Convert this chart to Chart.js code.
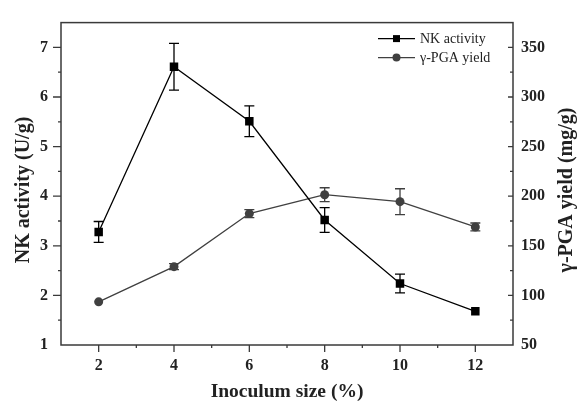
<!DOCTYPE html>
<html>
<head>
<meta charset="utf-8">
<script src="https://cdn.jsdelivr.net/npm/chart.js@4.4.1/dist/chart.umd.min.js"></script>
<style>
  html, body { margin: 0; padding: 0; background: #fff; }
  #wrap { width: 578px; height: 401px; }
</style>
</head>
<body>
<div id="wrap"><canvas id="myChart" width="578" height="401"></canvas></div>
<script>
// inoculum size (%) and the two measured responses with their error bars
const inoculum = [2, 4, 6, 8, 10, 12];
const nkActivity = [3.28, 6.61, 5.51, 3.52, 2.24, 1.68];
const nkError = [0.21, 0.47, 0.31, 0.25, 0.19, 0];
const pgaYield = [93.5, 129, 182.5, 201.5, 194.5, 169];
const pgaError = [0, 3, 4, 7, 13, 4];

const serif = '"Liberation Serif", "Times New Roman", serif';
const axisColor = '#3a3a3a';
const textColor = '#222';

const points = (ys) => inoculum.map((x, i) => ({ x: x, y: ys[i] }));

// vertical error bars with caps
const errorBars = {
    id: 'errorBars',
    afterDatasetsDraw(chart) {
        const ctx = chart.ctx;
        chart.data.datasets.forEach((ds, di) => {
            const meta = chart.getDatasetMeta(di);
            const ys = chart.scales[ds.yAxisID];
            ctx.save();
            ctx.strokeStyle = ds.borderColor;
            ctx.lineWidth = 1.3;
            meta.data.forEach((pt, i) => {
                const e = ds.errors[i];
                if (!e) return;
                const v = ds.data[i].y;
                const top = ys.getPixelForValue(v + e);
                const bot = ys.getPixelForValue(v - e);
                const x = pt.x;
                ctx.beginPath();
                ctx.moveTo(x, top); ctx.lineTo(x, bot);
                ctx.moveTo(x - 5, top); ctx.lineTo(x + 5, top);
                ctx.moveTo(x - 5, bot); ctx.lineTo(x + 5, bot);
                ctx.stroke();
            });
            ctx.restore();
        });
    }
};

// frame, tick marks (major/minor), y titles and the legend
const frameAndTicks = {
    id: 'frameAndTicks',
    afterDraw(chart) {
        const ctx = chart.ctx;
        const a = chart.chartArea;
        ctx.save();
        ctx.strokeStyle = axisColor;
        ctx.lineWidth = 1.5;
        ctx.strokeRect(a.left, a.top, a.right - a.left, a.bottom - a.top);

        ctx.lineWidth = 1.3;
        ctx.beginPath();
        chart.scales.x.ticks.forEach(t => {
            if (t.value <= 1 || t.value >= 13) return;
            const px = chart.scales.x.getPixelForValue(t.value);
            const len = t.value % 2 === 0 ? 7 : 3;
            ctx.moveTo(px, a.bottom); ctx.lineTo(px, a.bottom + len);
        });
        chart.scales.y.ticks.forEach(t => {
            if (t.value <= 1 || t.value >= 7.5) return;
            const py = chart.scales.y.getPixelForValue(t.value);
            const len = Number.isInteger(t.value) ? 8 : 3;
            ctx.moveTo(a.left, py); ctx.lineTo(a.left - len, py);
        });
        chart.scales.y1.ticks.forEach(t => {
            if (t.value <= 50 || t.value >= 375) return;
            const py = chart.scales.y1.getPixelForValue(t.value);
            const len = t.value % 50 === 0 ? 5 : 3;
            ctx.moveTo(a.right, py); ctx.lineTo(a.right - len, py);
        });
        ctx.stroke();

        // both y titles read bottom to top
        ctx.fillStyle = textColor;
        ctx.font = 'bold 20px ' + serif;
        ctx.textAlign = 'center';
        ctx.textBaseline = 'middle';
        [[24, 'NK activity (U/g)'], [567, 'γ-PGA yield (mg/g)']].forEach(([x, txt]) => {
            ctx.save();
            ctx.translate(x, 190);
            ctx.rotate(-Math.PI / 2);
            ctx.fillText(txt, 0, 0);
            ctx.restore();
        });

        // legend
        ctx.font = '14px ' + serif;
        ctx.textAlign = 'left';
        chart.data.datasets.forEach((ds, i) => {
            const y = a.top + 16 + i * 19;
            const x0 = a.right - 135;
            ctx.strokeStyle = ds.borderColor;
            ctx.fillStyle = ds.backgroundColor;
            ctx.lineWidth = 1.3;
            ctx.beginPath();
            ctx.moveTo(x0, y); ctx.lineTo(x0 + 37, y);
            ctx.stroke();
            ctx.beginPath();
            if (ds.pointStyle === 'rect') {
                ctx.rect(x0 + 15, y - 3.5, 7, 7);
            } else {
                ctx.arc(x0 + 18.5, y, 4, 0, Math.PI * 2);
            }
            ctx.fill();
            ctx.fillStyle = textColor;
            ctx.fillText(ds.label, x0 + 42, y + 1);
        });
        ctx.restore();
    }
};

const tickFont = { family: serif, size: 16, weight: 'bold' };
const noGrid = { display: false, drawTicks: false };

const ctx = document.getElementById('myChart');

new Chart(ctx, {
    type: 'line',
    data: {
        datasets: [{
            label: 'NK activity',
            data: points(nkActivity),
            errors: nkError,
            yAxisID: 'y',
            borderColor: '#000',
            backgroundColor: '#000',
            borderWidth: 1.3,
            pointStyle: 'rect',
            pointRadius: 6,
            pointBorderWidth: 0
        }, {
            label: 'γ-PGA yield',
            data: points(pgaYield),
            errors: pgaError,
            yAxisID: 'y1',
            borderColor: '#404040',
            backgroundColor: '#404040',
            borderWidth: 1.3,
            pointStyle: 'circle',
            pointRadius: 4.5,
            pointBorderWidth: 0
        }]
    },
    options: {
        responsive: false,
        animation: false,
        layout: { padding: { top: 13 } },
        plugins: {
            legend: { display: false },
            tooltip: { enabled: false }
        },
        scales: {
            x: {
                type: 'linear',
                min: 1,
                max: 13,
                afterFit: s => { s.height = 56; },
                grid: noGrid,
                border: { display: false },
                ticks: {
                    stepSize: 1,
                    padding: 11,
                    color: textColor,
                    font: tickFont,
                    callback: v => (v % 2 === 0 && v > 1 && v < 13) ? v : ''
                },
                title: {
                    display: true,
                    text: 'Inoculum size (%)',
                    color: textColor,
                    padding: { top: 0, bottom: -3 },
                    font: { family: serif, size: 19.5, weight: 'bold' }
                }
            },
            y: {
                position: 'left',
                min: 1,
                max: 7.5,
                afterFit: s => { s.width = 61; },
                grid: noGrid,
                border: { display: false },
                ticks: {
                    stepSize: 0.5,
                    padding: 13,
                    color: textColor,
                    font: tickFont,
                    callback: v => Number.isInteger(v) && v < 7.5 ? v : ''
                }
            },
            y1: {
                position: 'right',
                min: 50,
                max: 375,
                afterFit: s => { s.width = 65; },
                grid: noGrid,
                border: { display: false },
                ticks: {
                    stepSize: 25,
                    padding: 8,
                    color: textColor,
                    font: tickFont,
                    callback: v => (v % 50 === 0 && v < 375) ? v : ''
                }
            }
        }
    },
    plugins: [errorBars, frameAndTicks]
});
</script>
</body>
</html>
